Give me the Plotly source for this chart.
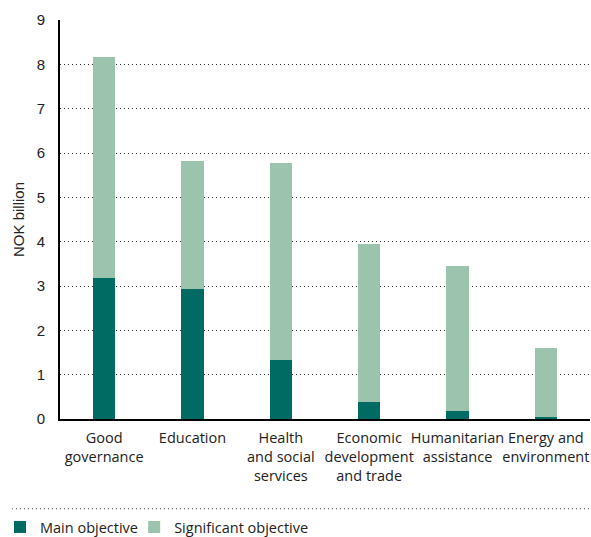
import plotly.graph_objects as go

categories = ["Good<br>governance", "Education", "Health<br>and social<br>services",
              "Economic<br>development<br>and trade", "Humanitarian<br>assistance",
              "Energy and<br>environment"]
main_objective = [3.19, 2.94, 1.32, 0.39, 0.17, 0.05]
total = [8.17, 5.81, 5.77, 3.94, 3.46, 1.61]
significant_objective = [round(t - m, 2) for t, m in zip(total, main_objective)]
y_ticks = [0, 1, 2, 3, 4, 5, 6, 7, 8, 9]

DARK = "#006b63"
LIGHT = "#9bc3ae"
CAT_FONT = "Open Sans"
NUM_FONT = "Liberation Sans"

fig = go.Figure()
fig.add_trace(go.Bar(x=categories, y=main_objective, name="Main objective",
                     marker=dict(color=DARK, line=dict(width=0)), width=0.25,
                     legend="legend"))
fig.add_trace(go.Bar(x=categories, y=significant_objective, name="Significant objective",
                     marker=dict(color=LIGHT, line=dict(width=0)), width=0.25,
                     legend="legend2"))

legend_common = dict(orientation="h", xref="container", yref="container",
                     y=0.0186, xanchor="left", yanchor="middle",
                     font=dict(family=CAT_FONT, size=14.5, color="#222"),
                     itemwidth=30, bgcolor="rgba(0,0,0,0)")

fig.update_layout(
    barmode="stack",
    width=591, height=537,
    margin=dict(l=60, r=1, t=20, b=118, autoexpand=False),
    plot_bgcolor="white", paper_bgcolor="white",
    font=dict(family=CAT_FONT, size=14, color="#222"),
    showlegend=True,
    legend=dict(x=-0.0188, **legend_common),
    legend2=dict(x=0.227, **legend_common),
    xaxis=dict(showline=True, linecolor="black", linewidth=2, ticks="",
               showgrid=False, tickfont=dict(family=CAT_FONT, size=14.5),
               tickangle=0, range=[-0.5, 5.5], automargin=False,
               ticklabelstandoff=5),
    yaxis=dict(range=[0, 9], tickvals=y_ticks, showline=True, linecolor="black",
               linewidth=2, showgrid=True, gridcolor="#333", griddash="1px,3px",
               gridwidth=1, ticks="", ticklabelstandoff=10,
               tickfont=dict(family=NUM_FONT, size=15),
               title=dict(text="NOK billion", font=dict(family=NUM_FONT, size=15),
                          standoff=8),
               zeroline=False, automargin=False),
    bargap=0.75,
)

fig.add_shape(type="line", xref="paper", yref="paper",
              x0=-0.0906, x1=1.002, y0=-0.225, y1=-0.225,
              line=dict(color="#444", width=1, dash="1px,3px"))

fig.write_html("out.html",
               config={"displayModeBar": False},
               post_script="document.body.style.margin='0';document.body.style.overflow='hidden';")
